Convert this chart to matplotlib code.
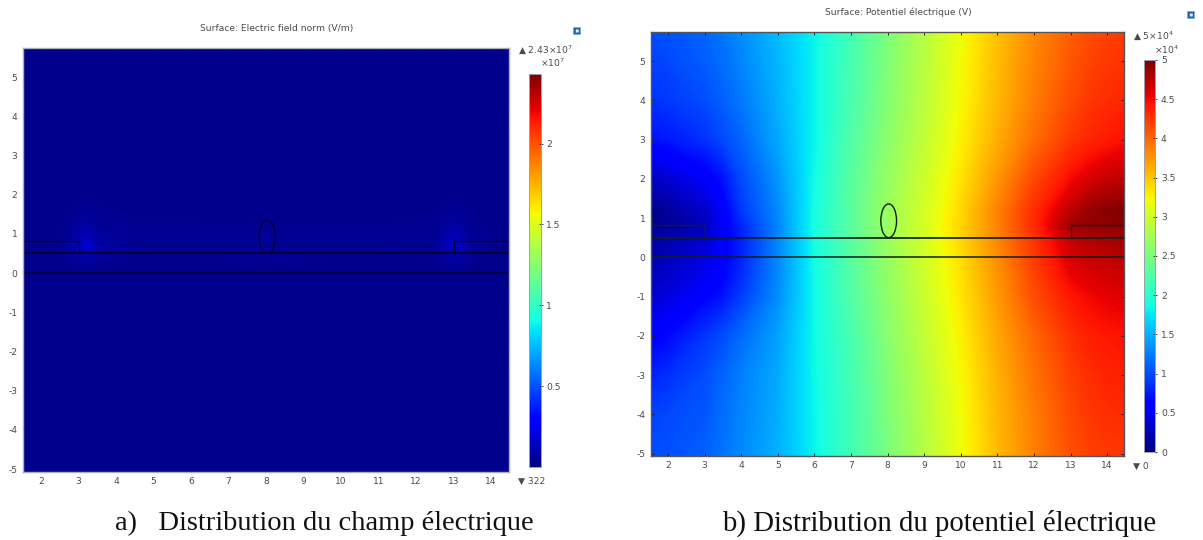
import matplotlib
matplotlib.use("Agg")
import matplotlib.pyplot as plt
from matplotlib.cm import ScalarMappable
from matplotlib.colors import Normalize
from matplotlib.patches import Ellipse, FancyBboxPatch

W, H = 1203, 540
plt.rcParams['font.family'] = ['DejaVu Sans']
plt.rcParams['mathtext.default'] = 'regular'
plt.rcParams['axes.unicode_minus'] = False

# Panel a) electric field norm, units of 1e7 V/m
field_x = [1.5, 2.5, 2.9, 3.2, 3.6, 4.5, 7.5, 8.0, 8.5, 11.5, 12.5, 12.8, 13.1, 13.5, 14.5]
field_y = [-5.05, -1, 0, 0.5, 0.7, 1.0, 1.5, 2.2, 3.2, 5.75]
field_z = [
    [.030, .030, .030, .030, .030, .030, .030, .030, .030, .030, .030, .030, .030, .030, .030],
    [.030, .031, .031, .031, .031, .031, .031, .031, .031, .031, .031, .031, .031, .031, .030],
    [.032, .034, .036, .038, .036, .034, .034, .034, .034, .034, .035, .036, .038, .034, .032],
    [.034, .036, .060, .100, .055, .038, .040, .050, .040, .038, .040, .070, .090, .040, .034],
    [.034, .038, .110, .200, .080, .042, .044, .060, .044, .042, .045, .130, .170, .042, .034],
    [.034, .038, .070, .110, .060, .042, .042, .050, .042, .042, .045, .085, .100, .042, .034],
    [.032, .034, .040, .050, .040, .036, .034, .036, .034, .035, .038, .045, .048, .036, .032],
    [.030, .031, .032, .034, .032, .031, .031, .031, .031, .031, .032, .033, .034, .032, .030],
    [.030, .030, .030, .030, .030, .030, .030, .030, .030, .030, .030, .030, .030, .030, .030],
    [.030, .030, .030, .030, .030, .030, .030, .030, .030, .030, .030, .030, .030, .030, .030],
]

# Panel b) electric potential, units of 1e4 V
pot_x = [1.5, 2, 3, 3.5, 4, 5, 6, 7, 8, 9, 10, 11, 12, 13, 13.5, 14, 14.5]
pot_y = [-5.05, -4, -3, -2, -1, -0.5, 0, 0.5, 0.8, 1.2, 2, 3, 4, 5, 5.75]
pot_z = [
    [1.00, 1.02, 1.10, 1.20, 1.30, 1.50, 1.82, 2.15, 2.48, 2.82, 3.17, 3.55, 3.86, 4.12, 4.20, 4.24, 4.25],
    [0.95, 0.98, 1.05, 1.17, 1.28, 1.48, 1.83, 2.15, 2.50, 2.84, 3.19, 3.57, 3.88, 4.15, 4.25, 4.30, 4.32],
    [0.78, 0.85, 1.00, 1.12, 1.25, 1.46, 1.84, 2.16, 2.52, 2.87, 3.22, 3.60, 3.93, 4.20, 4.30, 4.36, 4.38],
    [0.58, 0.65, 0.88, 1.00, 1.15, 1.42, 1.85, 2.20, 2.56, 2.91, 3.26, 3.65, 4.00, 4.28, 4.38, 4.42, 4.45],
    [0.35, 0.42, 0.62, 0.72, 0.92, 1.32, 1.85, 2.25, 2.60, 2.96, 3.32, 3.72, 4.13, 4.42, 4.50, 4.55, 4.58],
    [0.28, 0.33, 0.50, 0.62, 0.84, 1.30, 1.86, 2.27, 2.62, 2.98, 3.34, 3.75, 4.18, 4.52, 4.58, 4.63, 4.66],
    [0.22, 0.26, 0.42, 0.58, 0.80, 1.29, 1.87, 2.28, 2.64, 3.00, 3.36, 3.79, 4.23, 4.60, 4.68, 4.72, 4.75],
    [0.16, 0.20, 0.34, 0.55, 0.78, 1.28, 1.88, 2.29, 2.66, 3.02, 3.39, 3.83, 4.28, 4.70, 4.78, 4.82, 4.85],
    [0.08, 0.10, 0.25, 0.54, 0.80, 1.28, 1.89, 2.30, 2.67, 3.03, 3.40, 3.85, 4.32, 4.85, 4.90, 4.92, 4.94],
    [0.06, 0.12, 0.32, 0.56, 0.90, 1.30, 1.88, 2.30, 2.67, 3.02, 3.39, 3.85, 4.30, 4.72, 4.88, 4.95, 4.99],
    [0.30, 0.36, 0.55, 0.70, 0.98, 1.36, 1.86, 2.29, 2.64, 2.97, 3.33, 3.74, 4.16, 4.48, 4.60, 4.68, 4.72],
    [0.70, 0.74, 0.86, 0.98, 1.12, 1.45, 1.82, 2.24, 2.58, 2.91, 3.26, 3.62, 3.96, 4.24, 4.34, 4.40, 4.45],
    [0.86, 0.90, 1.00, 1.10, 1.22, 1.50, 1.82, 2.20, 2.54, 2.87, 3.22, 3.56, 3.88, 4.14, 4.25, 4.31, 4.35],
    [0.94, 0.98, 1.08, 1.17, 1.28, 1.52, 1.82, 2.18, 2.52, 2.85, 3.20, 3.54, 3.84, 4.08, 4.18, 4.24, 4.28],
    [1.00, 1.03, 1.12, 1.21, 1.32, 1.55, 1.83, 2.16, 2.50, 2.83, 3.18, 3.52, 3.81, 4.04, 4.14, 4.20, 4.25],
]

x_ticks = [2, 3, 4, 5, 6, 7, 8, 9, 10, 11, 12, 13, 14]
y_ticks = [-5, -4, -3, -2, -1, 0, 1, 2, 3, 4, 5]
field_cb_ticks = [0.5, 1, 1.5, 2]
field_cb_labels = ['0.5', '1', '1.5', '2']
pot_cb_ticks = [0, 0.5, 1, 1.5, 2, 2.5, 3, 3.5, 4, 4.5, 5]
pot_cb_labels = ['0', '0.5', '1', '1.5', '2', '2.5', '3', '3.5', '4', '4.5', '5']

TXT = '#4a4a4a'
FS = 6.6


def box(l, t, r, b):
    return [l / W, 1 - b / H, (r - l) / W, (b - t) / H]


def panel(rect, cbrect, x, y, z, vmin, vmax, xlim, ylim, cb_ticks, cb_labels,
          title, title_xy, top_lab, top_xy, mult, mult_xy, bot_lab, bot_xy, caption, cap_xy,
          icon_xy, line_col, line_w, tick_col, frame_col, caption_size):
    ax = fig.add_axes(box(*rect))
    norm = Normalize(vmin, vmax)
    levels = [vmin + (vmax - vmin) * i / 255 for i in range(256)]
    ax.contourf(x, y, z, levels=levels, cmap='jet', norm=norm, antialiased=False, extend='both')
    ax.set_xlim(*xlim)
    ax.set_ylim(*ylim)
    ax.set_xticks(x_ticks)
    ax.set_yticks(y_ticks)
    ax.tick_params(direction='in', length=2.5, width=0.7, top=True, right=True,
                   color=tick_col, labelcolor=TXT, labelsize=FS, pad=4)
    for s in ax.spines.values():
        s.set_color(frame_col)
        s.set_linewidth(1.0)
    # geometry outlines
    ax.plot([xlim[0], xlim[1]], [0.5, 0.5], color=line_col, lw=line_w * 1.25)
    ax.plot([xlim[0], xlim[1]], [0, 0], color=line_col, lw=line_w * 1.1)
    ax.plot([xlim[0], 3, 3], [0.81, 0.81, 0.5], color=line_col, lw=line_w)
    ax.plot([xlim[1], 13, 13], [0.81, 0.81, 0.5], color=line_col, lw=line_w)
    ax.add_patch(Ellipse((8.03, 0.93), 0.43, 0.86, fill=False, ec=line_col, lw=line_w))

    cax = fig.add_axes(box(*cbrect))
    cb = fig.colorbar(ScalarMappable(norm=norm, cmap='jet'), cax=cax)
    cb.set_ticks(cb_ticks)
    cb.set_ticklabels(cb_labels)
    cax.tick_params(direction='inout', length=2.5, width=0.6, color='#222222',
                    labelcolor=TXT, labelsize=FS, pad=3)
    cb.outline.set_edgecolor('#9aa0b0')
    cb.outline.set_linewidth(0.7)

    def t(px, py, s, **kw):
        kw.setdefault('color', TXT)
        kw.setdefault('fontsize', FS)
        kw.setdefault('va', 'center')
        return fig.text(px / W, 1 - py / H, s, **kw)

    t(*title_xy, title, ha='center')
    t(*top_xy, top_lab, ha='left')
    t(*mult_xy, mult, ha='left')
    t(*bot_xy, bot_lab, ha='left')
    t(*cap_xy, caption, ha='left', family='Liberation Serif',
      fontsize=caption_size, color='#111111')
    fig.add_artist(FancyBboxPatch(((icon_xy[0] - 3.5) / W, 1 - (icon_xy[1] + 3.5) / H), 7 / W, 7 / H,
                                  boxstyle='round,pad=0', transform=fig.transFigure,
                                  fc='#1f5fa8', ec='#7fb0e0', lw=0.6))
    fig.add_artist(FancyBboxPatch(((icon_xy[0] - 1.2) / W, 1 - (icon_xy[1] + 1.5) / H), 3 / W, 3 / H,
                                  boxstyle='round,pad=0', transform=fig.transFigure,
                                  fc='#dfeaf5', ec='none'))


fig = plt.figure(figsize=(W / 100, H / 100), dpi=100, facecolor='white')

panel((23, 48, 508.5, 471.5), (528.5, 74, 540.5, 467),
      field_x, field_y, field_z, 322e-7, 2.43, (1.52, 14.46), (-5.06, 5.74),
      field_cb_ticks, field_cb_labels,
      'Surface: Electric field norm (V/m)', (277, 28),
      '▲ 2.43×10$^{7}$', (518, 50), '×10$^{7}$', (540, 63), '▼ 322', (518, 481),
      'a)   Distribution du champ électrique', (115, 523), (577, 31),
      '#00002c', 1.0, '#0a0a80', '#a9aeb8', 20.5)

panel((651, 32, 1124, 455.5), (1143.5, 60, 1155, 452),
      pot_x, pot_y, pot_z, 0, 5, (1.535, 14.46), (-5.05, 5.74),
      pot_cb_ticks, pot_cb_labels,
      'Surface: Potentiel électrique (V)', (898, 12),
      '▲ 5×10$^{4}$', (1133, 36), '×10$^{4}$', (1154, 50), '▼ 0', (1133, 466),
      'b) Distribution du potentiel électrique', (722, 523), (1191, 15),
      '#10201a', 1.0, '#222222', '#555555', 20.7)

fig.savefig('out.png', dpi=100, facecolor='white')
